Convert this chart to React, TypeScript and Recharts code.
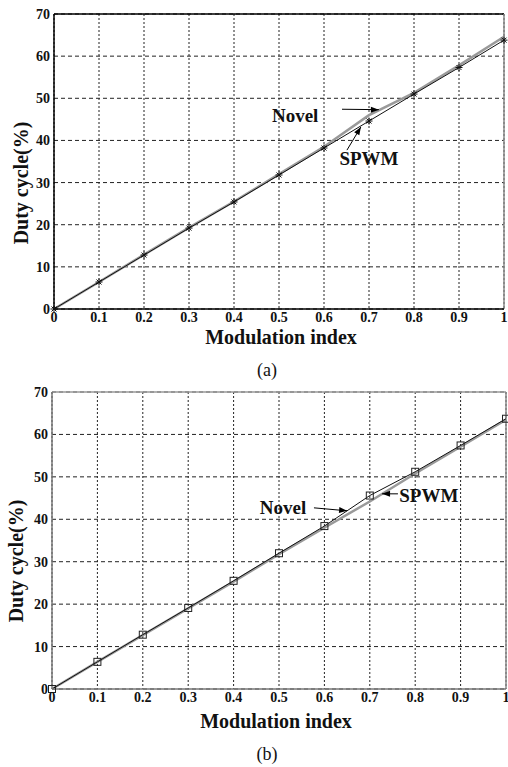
import React from 'react';
import {
  LineChart,
  Line,
  XAxis,
  YAxis,
  CartesianGrid,
  ReferenceLine,
  ReferenceDot,
} from 'recharts';

// ---- data ----
const modulationIndex = [0, 0.1, 0.2, 0.3, 0.4, 0.5, 0.6, 0.7, 0.8, 0.9, 1];
const novelA = [0, 6.4, 12.9, 19.3, 25.5, 32.0, 38.5, 46.0, 51.3, 57.8, 64.6];
const spwmA = [0, 6.4, 12.8, 19.2, 25.4, 31.8, 38.2, 44.6, 51.0, 57.3, 63.8];
const novelB = [0, 6.4, 12.7, 19.0, 25.3, 31.8, 38.0, 44.2, 50.8, 57.1, 63.5];
const spwmB = [0, 6.4, 12.8, 19.1, 25.5, 32.0, 38.4, 45.6, 51.2, 57.4, 63.7];
const xTicks = [0, 0.1, 0.2, 0.3, 0.4, 0.5, 0.6, 0.7, 0.8, 0.9, 1];
const yTicks = [0, 10, 20, 30, 40, 50, 60, 70];
const xTitle = 'Modulation index';
const yTitle = 'Duty cycle(%)';
const seriesNames = ['Novel', 'SPWM'];

const dataA = modulationIndex.map((x, i) => ({ x, novel: novelA[i], spwm: spwmA[i] }));
const dataB = modulationIndex.map((x, i) => ({ x, novel: novelB[i], spwm: spwmB[i] }));

// annotations (data coordinates)
const annA = {
  texts: [
    { label: seriesNames[0], x: 0.536, y: 46.0 },
    { label: seriesNames[1], x: 0.70, y: 35.8 },
  ],
  arrows: [
    { from: { x: 0.64, y: 47.4 }, to: { x: 0.722, y: 47.3 }, angle: 0 },
    { from: { x: 0.651, y: 37.7 }, to: { x: 0.682, y: 43.2 }, angle: -59 },
  ],
};
const annB = {
  texts: [
    { label: seriesNames[0], x: 0.509, y: 42.7 },
    { label: seriesNames[1], x: 0.83, y: 45.7 },
  ],
  arrows: [
    { from: { x: 0.577, y: 42.7 }, to: { x: 0.65, y: 42.0 }, angle: 5 },
    { from: { x: 0.762, y: 46.0 }, to: { x: 0.727, y: 46.0 }, angle: 180 },
  ],
};

const SERIF = '"Liberation Serif", "Times New Roman", serif';

const Asterisk = (p: any) => {
  const { cx, cy, index } = p;
  if (cx == null || cy == null) return <g key={`a-${index}`} />;
  const s = 3.5;
  const d = 2.5;
  return (
    <g key={`a-${index}`} stroke="#111" strokeWidth={1}>
      <line x1={cx - s} y1={cy} x2={cx + s} y2={cy} />
      <line x1={cx} y1={cy - s} x2={cx} y2={cy + s} />
      <line x1={cx - d} y1={cy - d} x2={cx + d} y2={cy + d} />
      <line x1={cx - d} y1={cy + d} x2={cx + d} y2={cy - d} />
    </g>
  );
};

const Square = (p: any) => {
  const { cx, cy, index } = p;
  if (cx == null || cy == null) return <g key={`s-${index}`} />;
  return (
    <rect
      key={`s-${index}`}
      x={cx - 3.5}
      y={cy - 3.5}
      width={7}
      height={7}
      fill="none"
      stroke="#222"
      strokeWidth={1}
    />
  );
};

const tickStyle = { fontFamily: SERIF, fontWeight: 700, fontSize: 14, fill: '#111' };

function Panel(props: {
  data: any[];
  top: number;
  marginTop: number;
  yAxisWidth: number;
  marginRight: number;
  marker: 'asterisk' | 'square';
  ann: typeof annA;
  axisColor: string;
  frameTop: string;
  frameRight: string;
}) {
  const { data, ann } = props;
  const DotShape = props.marker === 'asterisk' ? Asterisk : Square;
  return (
    <div style={{ position: 'absolute', left: 0, top: props.top }}>
      <LineChart
        width={508}
        height={330}
        data={data}
        margin={{ top: props.marginTop, right: props.marginRight, left: 0, bottom: 0 }}
      >
        <CartesianGrid horizontal={false} stroke="#222" strokeDasharray="2 2" />
        <CartesianGrid vertical={false} stroke="#222" strokeDasharray="4 3" />
        <XAxis
          dataKey="x"
          type="number"
          domain={[0, 1]}
          ticks={xTicks}
          interval={0}
          height={21}
          tickSize={3}
          tickMargin={0}
          tickLine={false}
          axisLine={{ stroke: props.axisColor, strokeWidth: 1.5 }}
          tick={tickStyle}
          tickFormatter={(v: number) => String(v)}
        />
        <YAxis
          type="number"
          domain={[0, 70]}
          ticks={yTicks}
          interval={0}
          width={props.yAxisWidth}
          tickSize={4}
          tickMargin={0}
          tickLine={false}
          axisLine={{ stroke: props.axisColor, strokeWidth: 1.5 }}
          tick={tickStyle}
        />
        <ReferenceLine y={70} stroke={props.frameTop} strokeWidth={1.5} />
        <ReferenceLine x={1} stroke={props.frameRight} strokeWidth={1.5} />
        <Line
          dataKey="novel"
          name={seriesNames[0]}
          stroke="#9a9a9a"
          strokeWidth={2.5}
          dot={false}
          isAnimationActive={false}
        />
        <Line
          dataKey="spwm"
          name={seriesNames[1]}
          stroke="#111"
          strokeWidth={1}
          dot={(p: any) => <DotShape {...p} />}
          isAnimationActive={false}
        />
        {ann.arrows.map((a, i) => (
          <ReferenceLine
            key={`al-${i}`}
            segment={[a.from, a.to]}
            stroke="#000"
            strokeWidth={1}
            ifOverflow="visible"
          />
        ))}
        {ann.arrows.map((a, i) => (
          <ReferenceDot
            key={`ah-${i}`}
            x={a.to.x}
            y={a.to.y}
            r={1}
            ifOverflow="visible"
            shape={(p: any) => (
              <polygon
                points="0,0 -8,-3 -8,3"
                fill="#000"
                transform={`translate(${p.cx},${p.cy}) rotate(${a.angle})`}
              />
            )}
          />
        ))}
        {ann.texts.map((t, i) => (
          <ReferenceDot
            key={`t-${i}`}
            x={t.x}
            y={t.y}
            r={1}
            ifOverflow="visible"
            shape={(p: any) => (
              <text
                x={p.cx}
                y={p.cy}
                textAnchor="middle"
                dominantBaseline="central"
                fontFamily={SERIF}
                fontWeight={700}
                fontSize={19}
                fill="#111"
              >
                {t.label}
              </text>
            )}
          />
        ))}
      </LineChart>
    </div>
  );
}

const centered = (cx: number, cy: number, extra: any = {}) => ({
  position: 'absolute' as const,
  left: cx,
  top: cy,
  transform: 'translate(-50%, -50%)',
  whiteSpace: 'nowrap' as const,
  fontFamily: SERIF,
  color: '#111',
  lineHeight: 1,
  ...extra,
});

export default function App() {
  return (
    <div
      style={{
        position: 'absolute',
        left: 0,
        top: 0,
        width: 508,
        height: 767,
        background: '#fff',
        overflow: 'hidden',
      }}
    >
      <Panel
        data={dataA}
        top={0}
        marginTop={14}
        yAxisWidth={54}
        marginRight={4}
        marker="asterisk"
        ann={annA}
        axisColor="#000"
        frameTop="#000"
        frameRight="#888"
      />
      <div style={centered(281, 337, { fontWeight: 700, fontSize: 20 })}>{xTitle}</div>
      <div
        style={centered(21, 183, {
          fontWeight: 700,
          fontSize: 20,
          transform: 'translate(-50%, -50%) rotate(-90deg)',
        })}
      >
        {yTitle}
      </div>
      <div style={centered(267, 370, { fontSize: 18 })}>(a)</div>

      <Panel
        data={dataB}
        top={380}
        marginTop={12}
        yAxisWidth={52}
        marginRight={2}
        marker="square"
        ann={annB}
        axisColor="#777"
        frameTop="#999"
        frameRight="#888"
      />
      <div style={centered(276, 721, { fontWeight: 700, fontSize: 20 })}>{xTitle}</div>
      <div
        style={centered(16, 561, {
          fontWeight: 700,
          fontSize: 20,
          transform: 'translate(-50%, -50%) rotate(-90deg)',
        })}
      >
        {yTitle}
      </div>
      <div style={centered(267, 754, { fontSize: 18 })}>(b)</div>
    </div>
  );
}
